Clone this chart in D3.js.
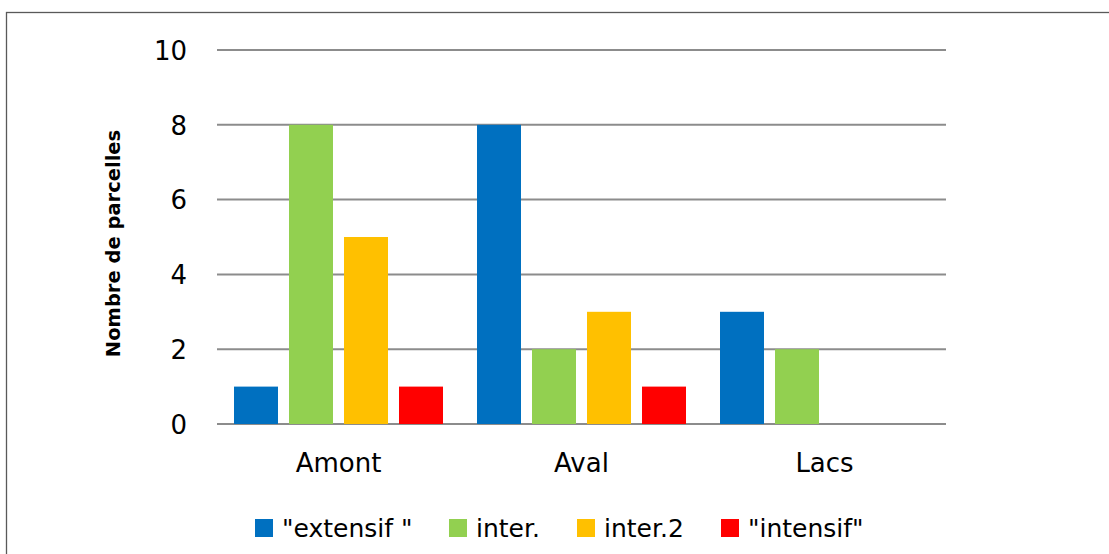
<!DOCTYPE html>
<html>
<head>
<meta charset="utf-8">
<script src="https://cdn.jsdelivr.net/npm/d3@7"></script>
<style>
  body { margin: 0; background: #fff; }
  text { font-family: "DejaVu Sans", sans-serif; fill: #000; }
</style>
</head>
<body>
<script>
// chart data
var categories = ['Amont', 'Aval', 'Lacs'];
var seriesNames = ['"extensif "', 'inter.', 'inter.2', '"intensif"'];
var seriesColors = ['#0070c0', '#92d050', '#ffc000', '#ff0000'];
var extensif = [1, 8, 3];
var inter = [8, 2, 2];
var inter2 = [5, 3, 0];
var intensif = [1, 1, 0];
var yTicks = [0, 2, 4, 6, 8, 10];

var allSeries = [extensif, inter, inter2, intensif];

var width = 1109,
    height = 554;

var svg = d3.select('body')
  .append('svg')
  .attr('width', width)
  .attr('height', height);

// outer frame (only top and left edges are visible in the picture)
svg.append('rect')
  .attr('x', 6.5)
  .attr('y', 12.5)
  .attr('width', 1120)
  .attr('height', 600)
  .attr('fill', 'none')
  .attr('stroke', '#595959')
  .attr('stroke-width', 1.3);

var plot = { left: 217, right: 946, top: 50, bottom: 424 };

var x = d3.scaleBand()
  .domain(categories)
  .range([plot.left, plot.right])
  .paddingInner(0)
  .paddingOuter(0);

// series inside each category
var xs = d3.scaleBand()
  .domain(d3.range(seriesNames.length))
  .range([17, x.bandwidth() - 17])
  .paddingInner(0.2)
  .paddingOuter(0);

var y = d3.scaleLinear()
  .domain([0, 10])
  .range([plot.bottom, plot.top]);

// gridlines
svg.append('g')
  .selectAll('line')
  .data(yTicks)
  .enter()
  .append('line')
  .attr('x1', plot.left)
  .attr('x2', plot.right)
  .attr('y1', function(d) { return y(d); })
  .attr('y2', function(d) { return y(d); })
  .attr('stroke', '#8c8c8c')
  .attr('stroke-width', 2);

// y tick labels
var yAxis = svg.append('g')
  .attr('transform', 'translate(' + plot.left + ',0)')
  .call(d3.axisLeft(y).tickValues(yTicks).tickSize(0).tickPadding(30));
yAxis.select('.domain').remove();
yAxis.selectAll('text')
  .style('font-family', '"DejaVu Sans", sans-serif')
  .style('font-size', '26px')
  .attr('dy', '0.36em');

// bars
var groups = svg.append('g')
  .selectAll('g')
  .data(categories)
  .enter()
  .append('g')
  .attr('transform', function(d) { return 'translate(' + x(d) + ',0)'; });

groups.selectAll('rect')
  .data(function(d, i) {
    return allSeries.map(function(s, k) { return { k: k, value: s[i] }; });
  })
  .enter()
  .append('rect')
  .filter(function(d) { return d.value > 0; })
  .attr('x', function(d) { return xs(d.k); })
  .attr('y', function(d) { return y(d.value); })
  .attr('width', xs.bandwidth())
  .attr('height', function(d) { return y(0) - y(d.value); })
  .attr('fill', function(d) { return seriesColors[d.k]; });

// category labels
var xAxis = svg.append('g')
  .attr('transform', 'translate(0,' + plot.bottom + ')')
  .call(d3.axisBottom(x).tickSize(0).tickPadding(30));
xAxis.select('.domain').remove();
xAxis.selectAll('text')
  .style('font-family', '"DejaVu Sans", sans-serif')
  .style('font-size', '26px');

// y axis title
svg.append('text')
  .attr('transform', 'translate(120,243.5) rotate(-90)')
  .attr('text-anchor', 'middle')
  .style('font-size', '19.5px')
  .style('font-weight', 'bold')
  .text('Nombre de parcelles');

// legend
var legendX = [255, 449, 577, 721];
var legend = svg.append('g')
  .selectAll('g')
  .data(seriesNames)
  .enter()
  .append('g')
  .attr('transform', function(d, i) { return 'translate(' + legendX[i] + ',519)'; });

legend.append('rect')
  .attr('width', 18)
  .attr('height', 18)
  .attr('fill', function(d, i) { return seriesColors[i]; });

legend.append('text')
  .attr('x', 27)
  .attr('y', 9)
  .attr('dy', '0.36em')
  .style('font-size', '25px')
  .text(function(d) { return d; });
</script>
</body>
</html>
